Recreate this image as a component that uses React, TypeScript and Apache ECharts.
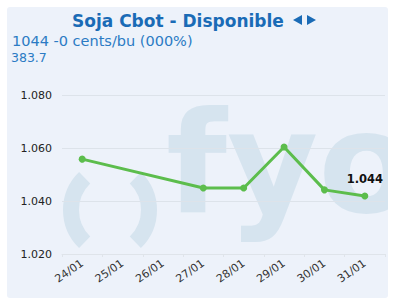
import React, { useEffect, useRef } from "react";
import * as echarts from "echarts";

const categories = ["24/01", "25/01", "26/01", "27/01", "28/01", "29/01", "30/01", "31/01"];
const values: (number | null)[] = [1.0558, null, null, 1.0449, 1.0449, 1.0604, 1.0442, 1.0419];
const yTicks = { min: 1.02, max: 1.08, interval: 0.02 };
const titleText = "Soja Cbot - Disponible";
const subtitleText = "1044 -0 cents/bu (000%)";
const subtext2 = "383.7";
const lastLabel = "1.044";

const FONT = "'DejaVu Sans', Verdana, sans-serif";
const WM = "#d6e4ef";
const TITLE_C = "#1a6bb6";

export default function App() {
  const ref = useRef<HTMLDivElement>(null);
  useEffect(() => {
    if (!ref.current) return;
    const chart = echarts.init(ref.current, null, { renderer: "svg" });
    chart.setOption({
      animation: false,
      backgroundColor: "#ffffff",
      textStyle: { fontFamily: FONT },
      graphic: [
        { type: "rect", z: -10, shape: { x: 7, y: 7, width: 381, height: 291, r: 3 }, style: { fill: "#edf2fa" } },
        { type: "arc", z: -9, shape: { cx: 116, cy: 210, r: 45, startAngle: Math.PI - 0.8, endAngle: Math.PI + 0.8, clockwise: true }, style: { stroke: WM, lineWidth: 16, fill: "none" } },
        { type: "arc", z: -9, shape: { cx: 104, cy: 210, r: 45, startAngle: 0.8, endAngle: -0.8, clockwise: false }, style: { stroke: WM, lineWidth: 16, fill: "none" } },
        { type: "text", z: -9, x: 166, y: 93, style: { text: "fyo", font: "bold 140px " + FONT, fill: WM } },
        { type: "rect", z: -8, shape: { x: 388, y: 0, width: 5, height: 303 }, style: { fill: "#ffffff" } },
        { type: "text", x: 72, y: 12, style: { text: titleText, font: "bold 17px " + FONT, fill: TITLE_C } },
        { type: "polygon", shape: { points: [[302, 15], [302, 25], [293, 20]] }, style: { fill: TITLE_C } },
        { type: "polygon", shape: { points: [[307, 15], [307, 25], [316, 20]] }, style: { fill: TITLE_C } },
        { type: "text", x: 12, y: 33, style: { text: subtitleText, font: "14.5px " + FONT, fill: "#2b7bc4" } },
        { type: "text", x: 11, y: 51, style: { text: subtext2, font: "12.5px " + FONT, fill: "#2b7bc4" } },
      ],
      grid: { left: 62, right: 8, top: 95, bottom: 49 },
      xAxis: {
        type: "category",
        data: categories,
        boundaryGap: true,
        axisLine: { lineStyle: { color: "#dfe4ea" } },
        axisTick: { show: true, length: 3, lineStyle: { color: "#dfe4ea" } },
        axisLabel: { rotate: 35, fontSize: 11, color: "#333", fontFamily: FONT, margin: 8 },
        splitLine: { show: false },
      },
      yAxis: {
        type: "value",
        min: yTicks.min,
        max: yTicks.max,
        interval: yTicks.interval,
        axisLine: { show: false },
        axisTick: { show: false },
        axisLabel: { fontSize: 11, color: "#222", fontFamily: FONT, margin: 10, formatter: (v: number) => v.toFixed(3) },
        splitLine: { lineStyle: { color: "#dde3ea" } },
      },
      series: [
        {
          type: "line",
          data: values,
          connectNulls: true,
          symbol: "circle",
          symbolSize: 7,
          lineStyle: { color: "#5cbd4c", width: 3 },
          itemStyle: { color: "#5cbd4c" },
          label: {
            show: true,
            position: "top",
            distance: 7,
            fontSize: 11.5,
            fontWeight: "bold",
            color: "#111",
            fontFamily: FONT,
            formatter: (p: any) => (p.dataIndex === categories.length - 1 ? lastLabel : ""),
          },
        },
      ],
    });
    return () => chart.dispose();
  }, []);
  return <div ref={ref} style={{ position: "absolute", left: 0, top: 0, width: 393, height: 303 }} />;
}
